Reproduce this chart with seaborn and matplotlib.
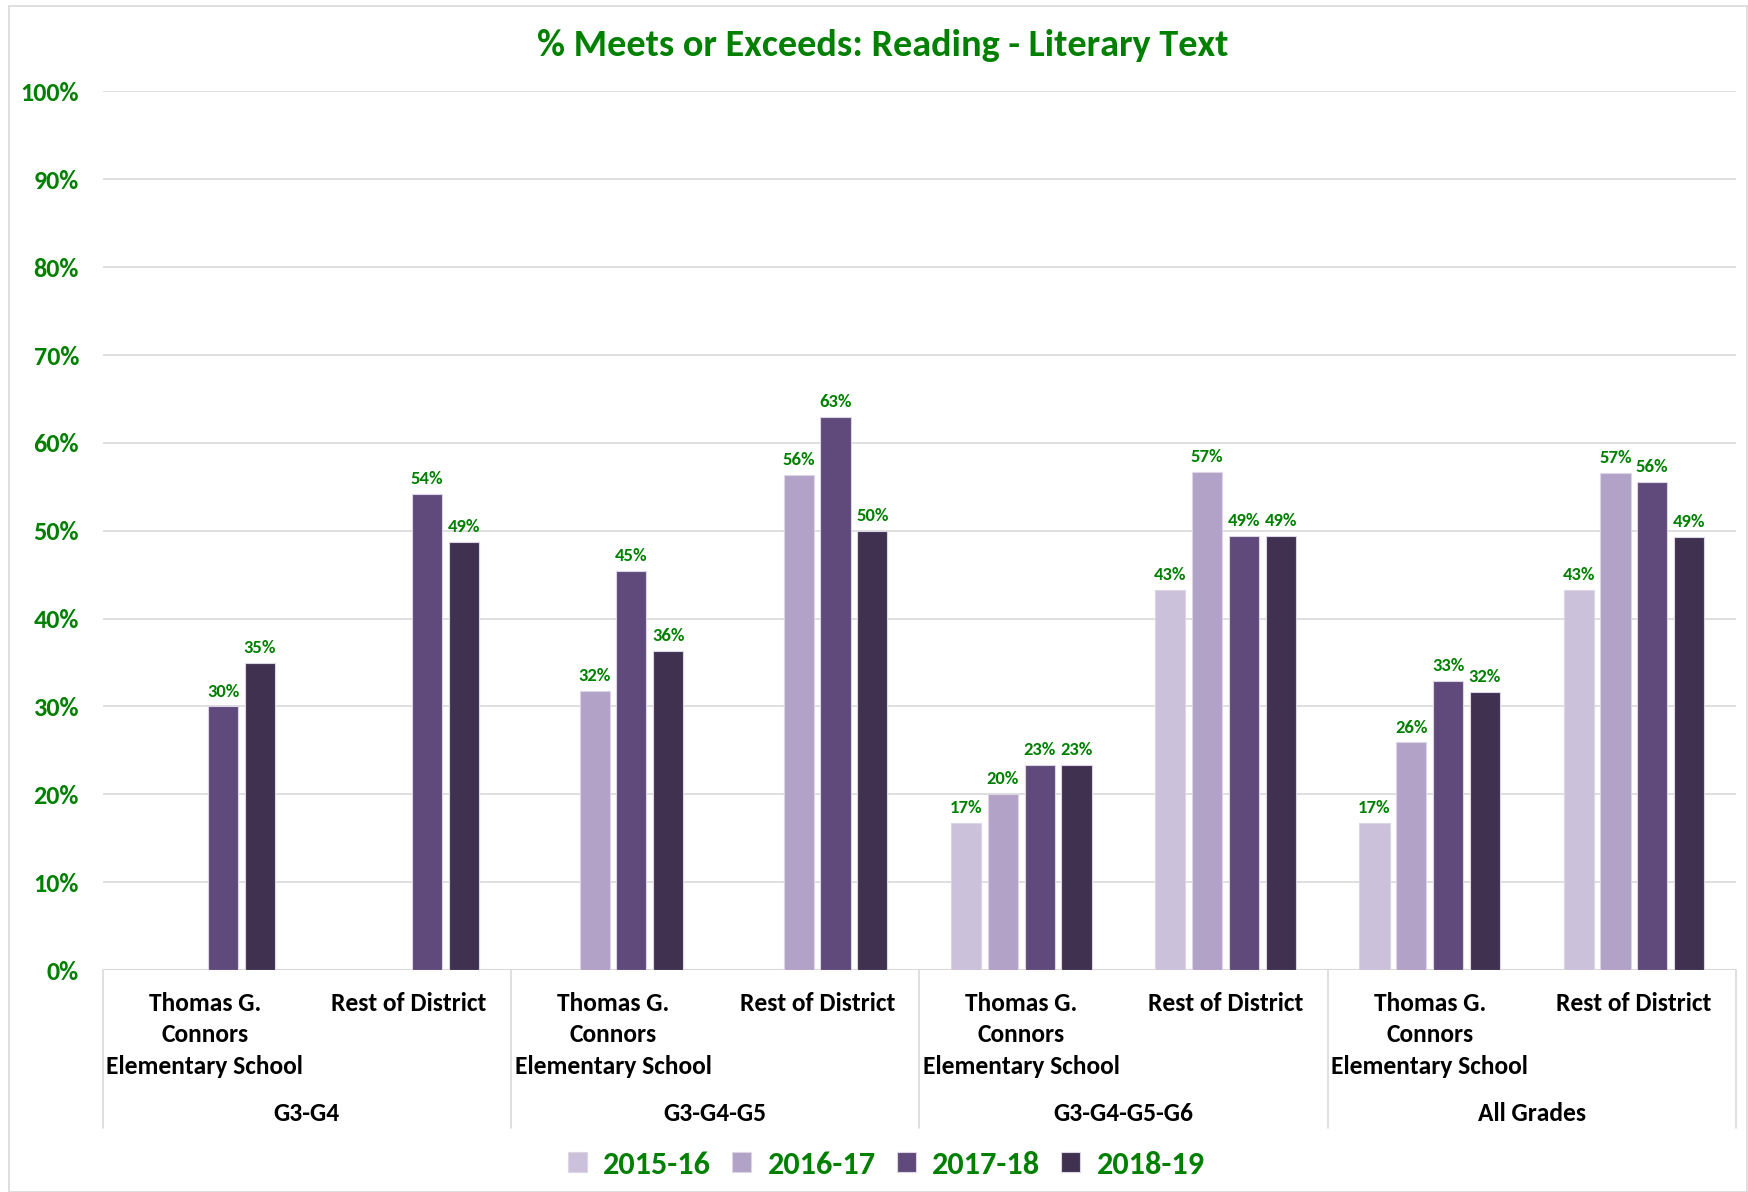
import numpy as np
import pandas as pd
import matplotlib
matplotlib.use("Agg")
import matplotlib.pyplot as plt
import seaborn as sns
from matplotlib.patches import Rectangle
from matplotlib.transforms import blended_transform_factory

# chart data
groups = ["G3-G4", "G3-G4-G5", "G3-G4-G5-G6", "All Grades"]
entities = ["Thomas G.\nConnors\nElementary School", "Rest of District"]
years = ["2015-16", "2016-17", "2017-18", "2018-19"]
vals_2015 = [np.nan, np.nan, np.nan, np.nan, 16.7, 43.3, 16.7, 43.3]
vals_2016 = [np.nan, np.nan, 31.8, 56.4, 20.0, 56.7, 25.9, 56.6]
vals_2017 = [30.0, 54.2, 45.4, 62.9, 23.3, 49.4, 32.9, 55.5]
vals_2018 = [35.0, 48.7, 36.3, 50.0, 23.3, 49.4, 31.6, 49.3]
yticks = list(range(0, 101, 10))

colors = ["#CCC1DA", "#B3A2C7", "#604A7B", "#403151"]
green = "#008000"

keys = [f"{g}|{e}" for g in groups for e in entities]
rows = []
for yr, vals in zip(years, [vals_2015, vals_2016, vals_2017, vals_2018]):
    for k, v in zip(keys, vals):
        rows.append({"key": k, "year": yr, "value": v})
df = pd.DataFrame(rows).dropna()

sns.set_style("white")
plt.rcParams["font.family"] = ["Carlito", "Lato", "DejaVu Sans"]
plt.rcParams["font.weight"] = "bold"

fig = plt.figure(figsize=(17.48, 11.92), dpi=100)
ax = fig.add_axes([0.0587, 0.1862, 0.9344, 0.7371])

sns.barplot(data=df, x="key", y="value", hue="year", order=keys,
            hue_order=years, palette=colors, width=0.72, gap=0.18,
            edgecolor="#DCD5E6", linewidth=0.8, saturation=1, ax=ax)

# value labels above the bars
for cont in ax.containers:
    labs = [f"{v:.0f}%" if np.isfinite(v) else "" for v in cont.datavalues]
    ax.bar_label(cont, labels=labs, padding=5, color=green,
                 fontsize=13.4, fontweight="bold")

ax.set_ylim(0, 100)
ax.set_xlim(-0.5, 7.5)
ax.set_yticks(yticks)
ax.set_yticklabels([f"{t}%" for t in yticks], color=green, fontsize=18.8,
                   fontweight="bold")
ax.yaxis.grid(True, color="#D9D9D9", linewidth=1.2)
ax.set_axisbelow(True)
for s in ax.spines.values():
    s.set_visible(False)
ax.axhline(0, color="#D9D9D9", linewidth=1.5, zorder=0)

ax.set_xticks(range(len(keys)))
ax.set_xticklabels([e for g in groups for e in entities], fontsize=18.4,
                   fontweight="bold", color="black", va="top",
                   linespacing=1.43)
ax.tick_params(axis="x", length=0, pad=16)
ax.tick_params(axis="y", length=0, pad=17)
ax.set_xlabel("")
ax.set_ylabel("")

# group labels and separators under the axis
trans = blended_transform_factory(ax.transData, ax.transAxes)
for i, g in enumerate(groups):
    ax.text(2 * i + 0.5, -0.163, g, transform=trans, ha="center",
            va="center", fontsize=18.4, fontweight="bold", color="black")
for xs in [-0.5, 1.5, 3.5, 5.5, 7.5]:
    ax.plot([xs, xs], [0, -0.18], transform=trans, color="#D9D9D9",
            linewidth=1.2, clip_on=False)

handles, labels = ax.get_legend_handles_labels()
ax.get_legend().remove()
leg = fig.legend(handles, labels, loc="center", bbox_to_anchor=(0.507, 0.023),
                 ncol=4, frameon=False, handlelength=0.6, handleheight=0.6,
                 handletextpad=0.5, columnspacing=0.65,
                 prop={"size": 23.2, "weight": "bold"})
for t in leg.get_texts():
    t.set_color(green)

fig.text(0.505, 0.962, "% Meets or Exceeds: Reading - Literary Text",
         ha="center", va="center", color=green, fontsize=27.5,
         fontweight="bold")

fig.patches.append(Rectangle((9 / 1748, 0), 1 - 10 / 1748, 1 - 6 / 1192,
                             transform=fig.transFigure, fill=False,
                             edgecolor="#D9D9D9", linewidth=1.2))

fig.savefig("out.png", dpi=100)
